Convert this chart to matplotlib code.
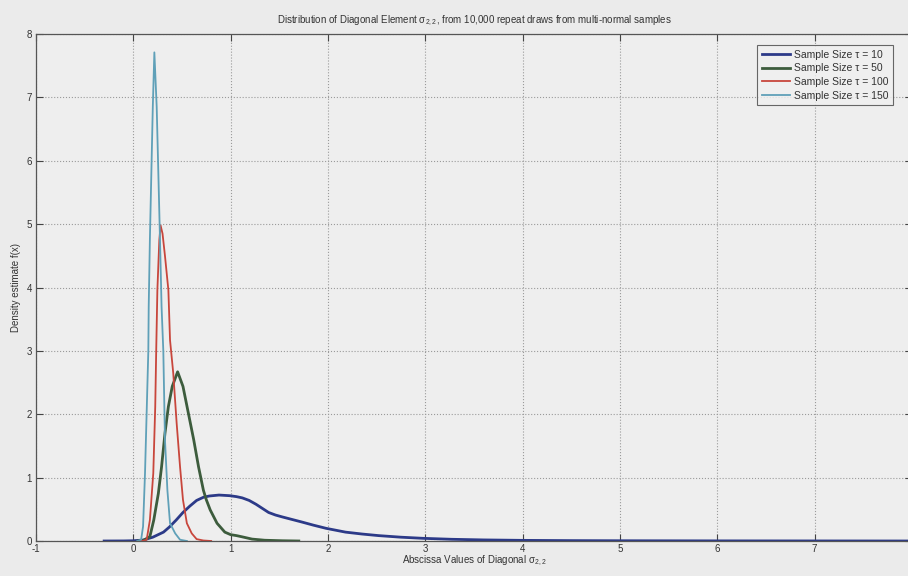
import matplotlib
matplotlib.use("Agg")
import matplotlib.pyplot as plt

plt.rcParams['font.family'] = ['Liberation Sans', 'DejaVu Sans']
plt.rcParams['mathtext.fontset'] = 'custom'
plt.rcParams['mathtext.rm'] = 'Liberation Sans'
plt.rcParams['mathtext.it'] = 'Liberation Sans'

# ---- data ----
x_t10 = [-0.3, -0.1, 0.0, 0.1, 0.2, 0.31, 0.37, 0.44, 0.51, 0.58, 0.65, 0.72, 0.78, 0.88,
         0.99, 1.06, 1.12, 1.19, 1.26, 1.33, 1.39, 1.46, 1.53, 1.63, 1.73, 1.85, 1.98, 2.18,
         2.35, 2.52, 2.75, 2.98, 3.27, 3.6, 4.0, 4.5, 5.0, 5.5, 6.0, 7.0, 8.0]
y_t10 = [0, 0.001, 0.004, 0.015, 0.06, 0.14, 0.22, 0.33, 0.45, 0.55, 0.64, 0.69, 0.71, 0.725,
         0.715, 0.70, 0.68, 0.64, 0.58, 0.51, 0.45, 0.41, 0.38, 0.34, 0.30, 0.25, 0.20, 0.14,
         0.11, 0.085, 0.06, 0.042, 0.027, 0.017, 0.01, 0.006, 0.004, 0.003, 0.002, 0.001, 0]

x_t50 = [0.05, 0.1, 0.17, 0.21, 0.257, 0.29, 0.325, 0.36, 0.40, 0.455, 0.51, 0.565, 0.62,
         0.67, 0.72, 0.75, 0.79, 0.86, 0.94, 1.0, 1.06, 1.12, 1.22, 1.35, 1.53, 1.7]
y_t50 = [0, 0.005, 0.07, 0.33, 0.75, 1.17, 1.70, 2.12, 2.44, 2.67, 2.44, 2.02, 1.6,
         1.17, 0.80, 0.65, 0.49, 0.28, 0.14, 0.10, 0.085, 0.065, 0.03, 0.012, 0.004, 0]

x_t100 = [0.05, 0.1, 0.137, 0.17, 0.205, 0.225, 0.235, 0.247, 0.267, 0.28, 0.30, 0.325,
          0.36, 0.377, 0.41, 0.445, 0.48, 0.51, 0.55, 0.60, 0.65, 0.72, 0.8]
y_t100 = [0, 0.003, 0.02, 0.33, 1.07, 2.12, 3.0, 3.96, 4.75, 4.98, 4.85, 4.5,
          3.96, 3.17, 2.65, 1.86, 1.17, 0.65, 0.28, 0.12, 0.03, 0.008, 0]

x_t150 = [0.04, 0.08, 0.10, 0.12, 0.154, 0.158, 0.17, 0.185, 0.2, 0.216, 0.24, 0.257,
          0.274, 0.29, 0.308, 0.325, 0.35, 0.377, 0.43, 0.48, 0.55]
y_t150 = [0, 0.02, 0.23, 1.07, 3.0, 3.7, 4.75, 5.8, 6.85, 7.71, 6.85, 5.8,
          4.75, 3.7, 3.0, 1.6, 0.8, 0.28, 0.12, 0.02, 0]

labels = ['Sample Size τ = 10', 'Sample Size τ = 50',
          'Sample Size τ = 100', 'Sample Size τ = 150']
xticks = [-1, 0, 1, 2, 3, 4, 5, 6, 7, 8]
xticklabels = ['-1', '0', '1', '2', '3', '4', '5', '6', '7', '']
yticks = [0, 1, 2, 3, 4, 5, 6, 7, 8]

# ---- figure ----
W, H = 908, 576
fig = plt.figure(figsize=(W / 100, H / 100), dpi=100)
bg = '#ebebeb'
fig.patch.set_facecolor(bg)

left, right, top, bottom = 36, 912, 34, 541
ax = fig.add_axes([left / W, (H - bottom) / H, (right - left) / W, (bottom - top) / H])
ax.set_facecolor('#eeeeee')

ax.plot(x_t10, y_t10, color='#2c3a88', lw=2.0, label=labels[0])
ax.plot(x_t50, y_t50, color='#3d5c3d', lw=2.0, label=labels[1])
ax.plot(x_t100, y_t100, color='#c8463c', lw=1.3, label=labels[2])
ax.plot(x_t150, y_t150, color='#5fa0b8', lw=1.3, label=labels[3])

ax.set_xlim(-1, 8)
ax.set_ylim(0, 8)
ax.set_xticks(xticks)
ax.set_xticklabels(xticklabels)
ax.set_yticks(yticks)
ax.tick_params(direction='in', length=5, width=0.8, colors='#444444', labelsize=7,
               top=True, right=True, pad=2)
ax.tick_params(axis='x', labelcolor='#333333')
ax.tick_params(axis='y', labelcolor='#333333', pad=3)
for s in ax.spines.values():
    s.set_color('#555555')
    s.set_linewidth(0.9)
ax.grid(True, linestyle=':', color='#9a9a9a', linewidth=0.8)

ax.set_title(r'Distribution of Diagonal Element σ$_{2,2}$, from 10,000 repeat draws from multi-normal samples',
             fontsize=7, color='#333333', pad=8)
ax.set_xlabel(r'Abscissa Values of Diagonal σ$_{2,2}$', fontsize=7, color='#333333', labelpad=0)
ax.set_ylabel('Density estimate f(x)', fontsize=7, color='#333333', labelpad=4)

leg = ax.legend(loc='upper right', bbox_to_anchor=((893 - left) / (right - left), 1 - (45 - top) / (bottom - top)),
                fontsize=7.5, frameon=True, fancybox=False, handlelength=2.7, handletextpad=0.4,
                borderpad=0.45, labelspacing=0.35, borderaxespad=0)
leg.get_frame().set_edgecolor('#444444')
leg.get_frame().set_facecolor('#f0f0f0')
leg.get_frame().set_linewidth(0.8)
for t in leg.get_texts():
    t.set_color('#333333')

fig.savefig('out.png', dpi=100, facecolor=fig.get_facecolor())
